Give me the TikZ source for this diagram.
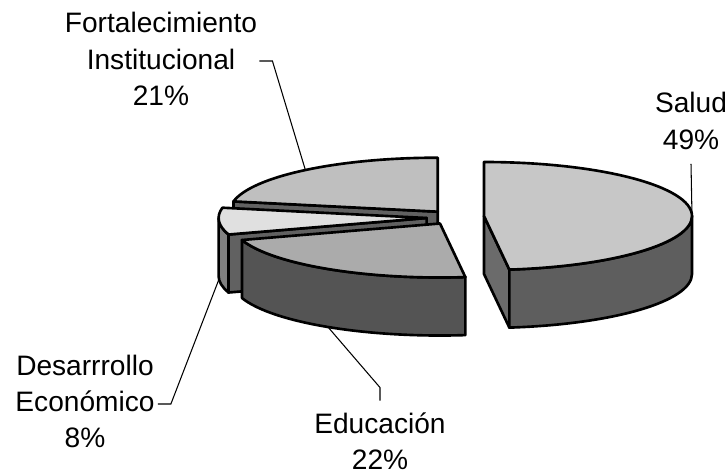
\documentclass[tikz,border=0pt]{standalone}
\usepackage{fontspec}
\setmainfont{Liberation Sans}
\usetikzlibrary{calc}
\begin{document}
\begin{tikzpicture}[x=0.02cm,y=-0.02cm,
        wall/.style={draw=black,line width=1.5pt,line join=round,fill=black!64},
        lid/.style={draw=black,line width=1.5pt,line join=round,fill=#1},
        lbl/.style={align=center,inner sep=0pt,font=\fontsize{16}{20.7}\selectfont},
        leader/.style={draw=black,line width=0.6pt}
      ]
      \useasboundingbox (0,0) rectangle (727,474);
      \coordinate (fort) at (437.7,211.7);
      \coordinate (des) at (426.6,218);
      \coordinate (edu) at (440,223.5);
      \coordinate (sal) at (484,216);
      \draw[wall,fill=black!62] (fort) -- ++(191:208 and 54) -- ++(0,58) -- ($(fort)+(0,58)$) -- cycle;
      \draw[lid=black!25] (fort) -- ++(191:208 and 54) arc[start angle=191,end angle=270,x radius=208,y radius=54] -- cycle;
      \draw[wall,fill=black!62] (des) -- ++(162.2:208 and 54) -- ++(0,58) -- ($(des)+(0,58)$) -- cycle;
      \draw[wall,fill=black!50] ($(des)+(162.2:208 and 54)$) arc[start angle=162.2,end angle=180,x radius=208,y radius=54] -- ++(0,58) arc[start angle=180,end angle=162.2,x radius=208,y radius=54] -- cycle;
      \draw[lid=black!12] (des) -- ++(162.2:208 and 54) arc[start angle=162.2,end angle=191,x radius=208,y radius=54] -- cycle;
      \draw[wall,fill=black!67] ($(edu)+(83:208 and 54)$) arc[start angle=83,end angle=162.2,x radius=208,y radius=54] -- ++(0,58) arc[start angle=162.2,end angle=83,x radius=208,y radius=54] -- cycle;
      \draw[lid=black!33] (edu) -- ++(83:208 and 54) arc[start angle=83,end angle=162.2,x radius=208,y radius=54] -- cycle;
      \draw[wall,fill=black!58] (sal) -- ++(83:208 and 54) -- ++(0,58) -- ($(sal)+(0,58)$) -- cycle;
      \draw[wall,fill=black!63] ($(sal)+(0:208 and 54)$) arc[start angle=0,end angle=83,x radius=208,y radius=54] -- ++(0,58) arc[start angle=83,end angle=0,x radius=208,y radius=54] -- cycle;
      \draw[lid=black!22] (sal) -- ++(-90:208 and 54) arc[start angle=-90,end angle=83,x radius=208,y radius=54] -- cycle;
      \coordinate (fortp) at ($(fort)+(230.5:208 and 54)$);
      \coordinate (salp) at ($(sal)+(0:208 and 54)$);
      \coordinate (desp) at ($(des)+(0,58)+(176.6:208 and 54)$);
      \coordinate (edup) at ($(edu)+(0,58)+(122.6:208 and 54)$);
      \node[lbl] (fortlbl) at (161,59) {Fortalecimiento\\Institucional\\21\%};
      \node[lbl] (sallbl) at (691,121) {Salud\\49\%};
      \node[lbl] (deslbl) at (85,401.5) {Desarrrollo\\Económico\\8\%};
      \node[lbl] (edulbl) at (380,441.5) {Educación\\22\%};
      \draw[leader] (fortlbl.east) ++(2,2) -- ++(13,0) -- (fortp);
      \draw[leader] (sallbl.south) ++(0,14) -- (salp);
      \draw[leader] (deslbl.east) ++(3,2.5) -- ++(13,0) -- (desp);
      \draw[leader] (edulbl.north) ++(0,-12) -- ++(0,-13) -- (edup);
    \end{tikzpicture}
\end{document}
